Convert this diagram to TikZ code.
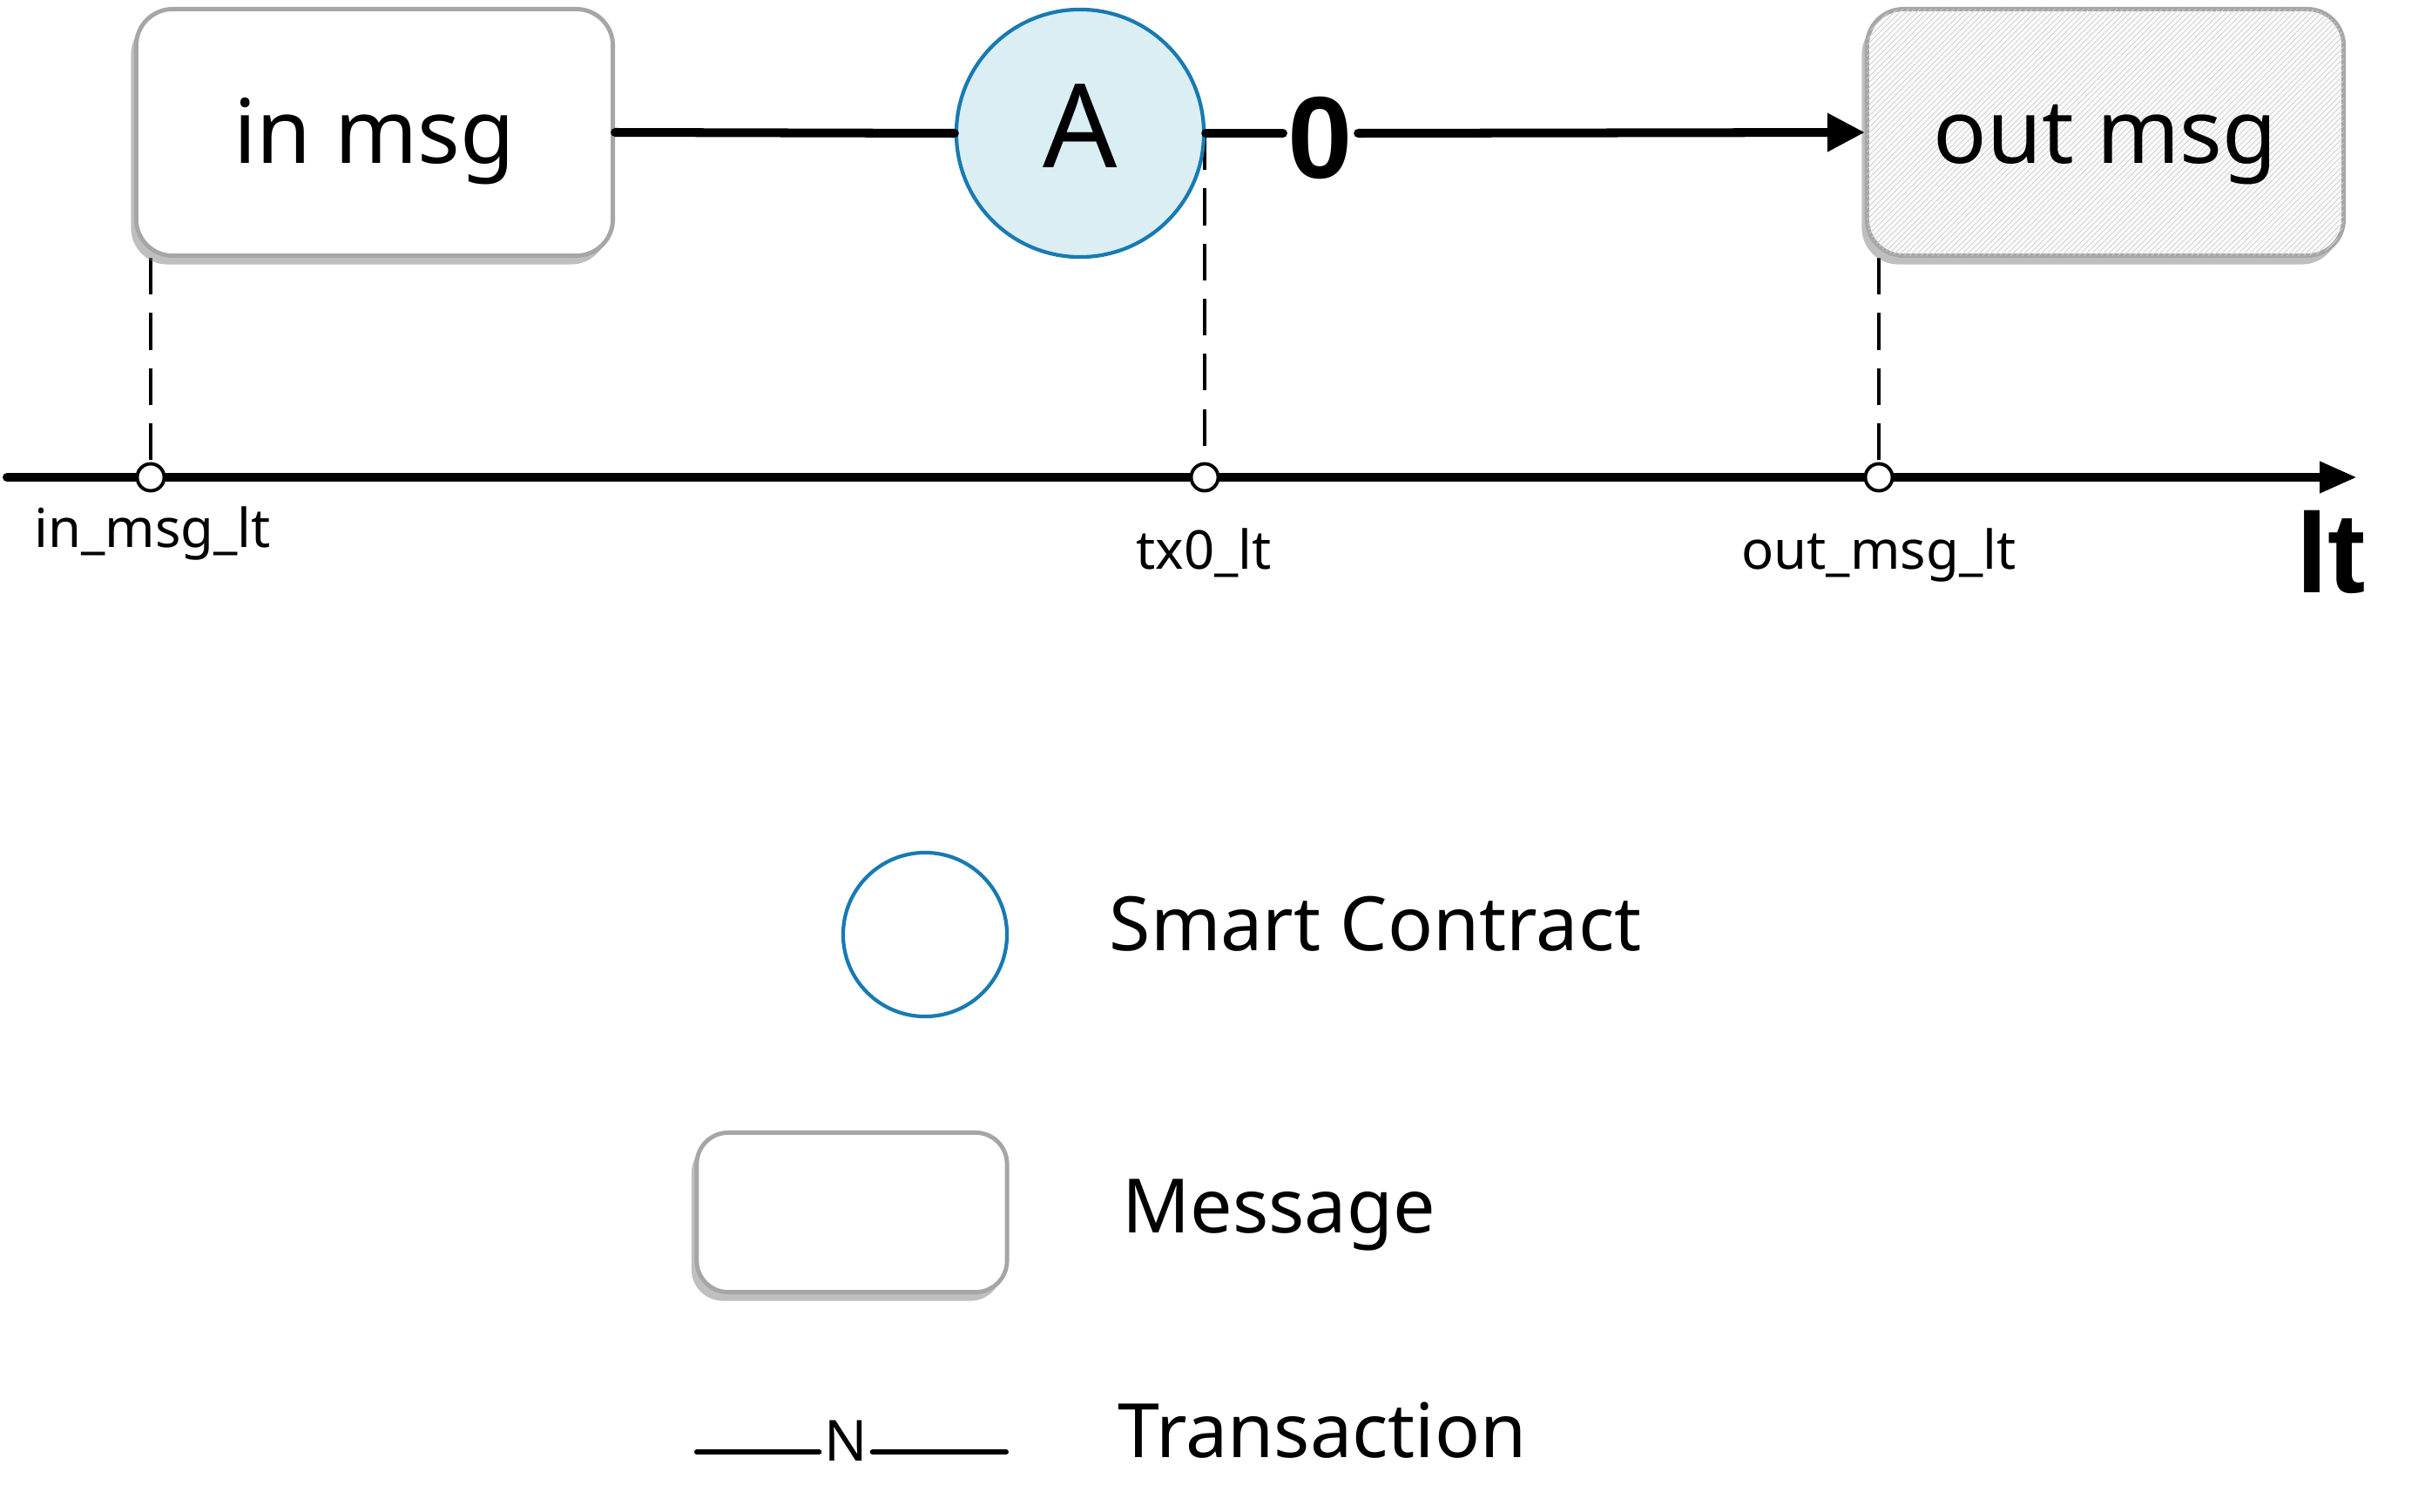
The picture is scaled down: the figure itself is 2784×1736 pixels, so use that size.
\documentclass[tikz,border=0pt]{standalone}
\usepackage{fontspec}
\setmainfont{Noto Sans}
\newfontfamily\heavyfont{Liberation Sans}[BoldFont={Liberation Sans Bold}]
\usetikzlibrary{arrows.meta,shadows,patterns.meta,calc,backgrounds}
\definecolor{cblue}{RGB}{24,122,178}
\definecolor{clight}{RGB}{218,238,244}
\definecolor{cgray}{RGB}{166,166,166}
\begin{document}
\begin{tikzpicture}[x=0.01cm,y=-0.01cm,
  msgbox/.style={draw=cgray, line width=1.4pt, rounded corners=0.42cm, fill=white,
    drop shadow={shadow xshift=-0.6mm, shadow yshift=-1mm, fill=black!50, opacity=0.5},
    inner sep=0pt, minimum width=5.47cm, minimum height=2.83cm,
    font=\fontsize{29}{34}\selectfont, text height=26pt, text depth=6pt},
  hatchbox/.style={msgbox, fill=gray!3,
    postaction={pattern={Lines[angle=45,distance=1.3pt,line width=0.25pt]}, pattern color=gray!35}},
  contract/.style={circle, draw=cblue, line width=1.2pt, inner sep=0pt},
  conn/.style={line width=2.85pt, line cap=round},
  dashline/.style={line width=1.1pt, dash pattern=on 12pt off 6pt},
  tickdot/.style={circle, draw, line width=1.1pt, fill=white, minimum size=0.31cm, inner sep=0pt},
  lbl/.style={font=\fontsize{17.5}{20}\selectfont, anchor=base, inner sep=0pt},
  lgtext/.style={font=\fontsize{24.5}{28}\selectfont, anchor=base west, inner sep=0pt}
]
\useasboundingbox (0,0) rectangle (2784,1736);

% top row
\node[msgbox] (inmsg) at (430,152) {in msg};
\node[contract, fill=clight, minimum size=2.84cm, font=\fontsize{38}{44}\selectfont,
  text height=22.2pt, text depth=0pt] (A) at (1240,153) {A};
\node[hatchbox] (outmsg) at (2417,152) {out msg};
\node[font=\fontsize{38}{44}\heavyfont\bfseries, inner sep=1.5pt] (zero) at (1516,158) {0};

\draw[conn] (inmsg.east) -- (A.west);
\draw[conn] (A.east) -- (A.east -| zero.west);
\draw[conn, -{Triangle[length=0.43cm, width=0.42cm]}] (zero.east |- A.east) -- (outmsg.west);

% timeline
\coordinate (tl0) at (8,548);
\coordinate (tl1) at (2706,548);
\draw[conn, -{Triangle[length=0.43cm, width=0.34cm]}] (tl0) -- (tl1);
\node[tickdot] (t1) at (173,548) {};
\node[tickdot] (t2) at (1383,548) {};
\node[tickdot] (t3) at (2157,548) {};

\begin{scope}[on background layer]
\draw[dashline] (t1 |- inmsg.south) -- (t1.north);
\draw[dashline] (t2 |- A.east) -- (t2.north);
\draw[dashline] (t3 |- outmsg.south) -- (t3.north);
\end{scope}

\node[lbl] (l1) at (175,628) {in\_msg\_lt};
\node[lbl] (l2) at (1382,653) {tx0\_lt};
\node[lbl] (l3) at (2157,653) {out\_msg\_lt};
\node[font=\fontsize{37}{42}\heavyfont\bfseries, anchor=base, inner sep=0pt] (lt) at (2676,680) {lt};

% legend
\node[contract, fill=white, minimum size=1.88cm] (legC) at (1062,1073) {};
\node[lgtext] (legCt) at (1273,1091) {Smart Contract};
\node[msgbox, minimum width=3.56cm, minimum height=1.83cm, rounded corners=0.36cm] (legM) at (978,1392) {};
\node[lgtext] (legMt) at (1288,1415) {Message};
\coordinate (tr0) at (800,1667);
\coordinate (tr1) at (1155,1667);
\node[font=\fontsize{18.5}{22}\selectfont, anchor=base, inner sep=1.5pt] (legN) at (971,1677) {N};
\draw[line width=1.7pt, line cap=round] (tr0) -- (tr0 -| legN.west);
\draw[line width=1.7pt, line cap=round] (legN.east |- tr1) -- (tr1);
\node[lgtext] (legTt) at (1283,1673) {Transaction};
\end{tikzpicture}
\end{document}
